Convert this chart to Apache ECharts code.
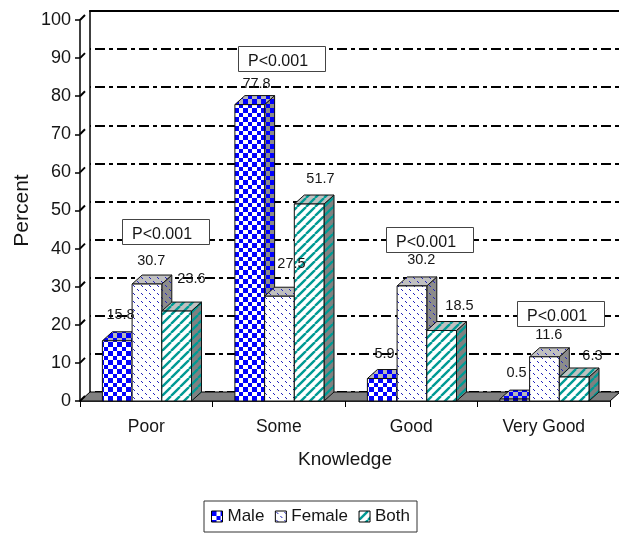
<!DOCTYPE html>
<html>
<head>
<meta charset="utf-8">
<style>html,body{margin:0;padding:0;background:#fff}#c{width:619px;height:533px}</style>
<script src="https://cdn.jsdelivr.net/npm/echarts@6/dist/echarts.min.js"></script>
</head>
<body>
<div id="c"></div>
<script>
var categories = ['Poor', 'Some', 'Good', 'Very Good'];
var male = [15.8, 77.8, 5.9, 0.5];
var female = [30.7, 27.5, 30.2, 11.6];
var both = [23.6, 51.7, 18.5, 6.3];
var yTicks = [0, 10, 20, 30, 40, 50, 60, 70, 80, 90, 100];
var pNotes = ['P<0.001', 'P<0.001', 'P<0.001', 'P<0.001'];

var FONT = '"Liberation Sans", Arial, sans-serif';
var INK = '#151515';
var BAR_W = 29.7, BAR_OFFSET = 0.7, DX = 10, DY = -9;

// Hand placement of value labels around each bar (px from bar centre / top)
var labelNudge = {
  Male:   [[3.3, -26], [6.8, -20.6], [2.3, -24.5], [1.8, -26]],
  Female: [[4.3, -23], [12, -32], [9.3, -26], [4.3, -22]],
  Both:   [[14.8, -32], [11.3, -25], [17.8, -24.5], [18.3, -21]]
};

function tile(w, h, bg, paint) {
  var c = document.createElement('canvas');
  c.width = w; c.height = h;
  var g = c.getContext('2d');
  g.fillStyle = bg; g.fillRect(0, 0, w, h);
  paint(g);
  return { image: c, repeat: 'repeat' };
}
function checker(bg) {
  return tile(9, 9, bg, function (g) {
    g.fillStyle = '#0000ff';
    g.fillRect(0, 0, 5, 5);
    g.fillRect(5, 5, 4, 4);
  });
}
function dots(bg) {
  return tile(8, 8, bg, function (g) {
    g.fillStyle = '#2222bb';
    g.fillRect(1, 1, 1, 1); g.fillRect(2, 2, 1, 1);
    g.fillRect(5, 5, 1, 1); g.fillRect(6, 6, 1, 1);
  });
}
function stripes(bg) {
  return tile(9, 9, bg, function (g) {
    g.strokeStyle = '#009a94';
    g.lineWidth = 2.4;
    g.beginPath();
    for (var k = -9; k <= 18; k += 9) { g.moveTo(k, 9); g.lineTo(k + 9, 0); }
    g.stroke();
  });
}
var fills = {
  Male:   { front: checker('#ffffff'), top: checker('#b8b8b8'), side: checker('#8a8a8a') },
  Female: { front: dots('#ffffff'),    top: dots('#c0c0c0'),    side: dots('#8c8c8c') },
  Both:   { front: stripes('#ffffff'), top: stripes('#c0c0c0'), side: stripes('#808080') }
};

function barRender(name, shift) {
  return function (params, api) {
    var cat = api.value(0), val = api.value(1);
    var top = api.coord([cat, val]), base = api.coord([cat, 0]);
    var cx = top[0] + BAR_OFFSET + shift * BAR_W;
    var x0 = cx - BAR_W / 2, x1 = cx + BAR_W / 2, yT = top[1], yB = base[1];
    var line = { stroke: '#111', lineWidth: 1 };
    var f = fills[name];
    var n = labelNudge[name][cat];
    return {
      type: 'group',
      children: [
        { type: 'polygon', shape: { points: [[x1, yT], [x1 + DX, yT + DY], [x1 + DX, yB + DY], [x1, yB]] },
          style: Object.assign({ fill: f.side }, line) },
        { type: 'polygon', shape: { points: [[x0, yT], [x0 + DX, yT + DY], [x1 + DX, yT + DY], [x1, yT]] },
          style: Object.assign({ fill: f.top }, line) },
        { type: 'rect', shape: { x: x0, y: yT, width: BAR_W, height: yB - yT },
          style: Object.assign({ fill: f.front }, line) },
        { type: 'text', z2: 200, style: { x: cx + n[0], y: yT + n[1], text: String(val),
          fill: INK, font: '14.5px ' + FONT, align: 'center', verticalAlign: 'middle' } }
      ]
    };
  };
}
function pairs(arr) { return arr.map(function (v, i) { return [i, v]; }); }

function frameRender(params, api) {
  var v = api.value(0);
  var p = api.coord([0, v]);
  var band = api.size([1, 0])[0];
  var xL = p[0] - band / 2;
  var kids = [{ type: 'line', shape: { x1: xL, y1: p[1], x2: xL + 5, y2: p[1] - 5 },
    style: { stroke: '#000', lineWidth: 2 } }];
  if (v === 0) {
    var xR = xL + band * categories.length;
    kids.unshift({ type: 'polygon',
      shape: { points: [[xL, p[1]], [xL + DX, p[1] + DY], [xR + DX, p[1] + DY], [xR, p[1]]] },
      style: { fill: '#808080', stroke: '#000', lineWidth: 1 } });
  }
  return { type: 'group', children: kids };
}

var boxes = [[122, 219], [238, 46], [386, 227], [517, 301]];
var graphicEls = [];
boxes.forEach(function (b, i) {
  graphicEls.push({ type: 'rect', z: 50, left: b[0], top: b[1],
    shape: { width: 87, height: 25 }, style: { fill: '#fff', stroke: '#444', lineWidth: 1 } });
  graphicEls.push({ type: 'text', z: 51, left: b[0] + 10, top: b[1] + 8,
    style: { text: pNotes[i], fill: INK, font: '16px ' + FONT } });
});

var chart = echarts.init(document.getElementById('c'), null, { renderer: 'canvas' });
function legendItem(name) {
  return { name: name, icon: 'rect', itemStyle: { color: fills[name].front, borderColor: '#000', borderWidth: 1 } };
}
chart.setOption({
  animation: false,
  backgroundColor: '#fff',
  grid: [
    { left: 80, right: 9, top: 20, height: 381, outerBoundsMode: 'none' },
    { left: 90, right: 0, top: 11, height: 381, outerBoundsMode: 'none' }
  ],
  xAxis: [
    { type: 'category', data: categories, gridIndex: 0,
      name: 'Knowledge', nameLocation: 'middle', nameGap: 49, nameMoveOverlap: false,
      nameTextStyle: { fontFamily: FONT, fontSize: 19, color: INK },
      axisLine: { lineStyle: { color: '#000', width: 1.5 } },
      axisTick: { show: true, length: 6, alignWithLabel: false, lineStyle: { color: '#000' } },
      axisLabel: { fontFamily: FONT, fontSize: 17.5, color: INK, margin: 17 } },
    { type: 'category', data: categories, gridIndex: 1, position: 'top',
      axisLine: { show: true, onZero: false, lineStyle: { color: '#000', width: 2 } },
      axisTick: { show: false }, axisLabel: { show: false } }
  ],
  yAxis: [
    { type: 'value', min: 0, max: 100, interval: 10, gridIndex: 0,
      name: 'Percent', nameLocation: 'middle', nameGap: 47, nameMoveOverlap: false,
      nameTextStyle: { fontFamily: FONT, fontSize: 21, color: INK },
      splitLine: { show: false },
      axisLine: { show: true, lineStyle: { color: '#000', width: 1.5 } },
      axisTick: { show: true, length: 5, lineStyle: { color: '#000', width: 1.5 } },
      axisLabel: { fontFamily: FONT, fontSize: 18, color: INK, margin: 9 } },
    { type: 'value', min: 0, max: 100, interval: 10, gridIndex: 1,
      axisLine: { show: true, lineStyle: { color: '#000', width: 1.5 } },
      axisTick: { show: false }, axisLabel: { show: false },
      splitLine: { show: true, lineStyle: { color: '#000', width: 2, type: [10, 4, 4, 4], dashOffset: 17 } } }
  ],
  legend: {
    data: ['Male', 'Female', 'Both'].map(legendItem),
    left: 204, top: 501, orient: 'horizontal',
    itemWidth: 11, itemHeight: 11, itemGap: 10.5,
    padding: [7, 7, 7, 7],
    backgroundColor: '#fff', borderColor: '#333', borderWidth: 1,
    textStyle: { fontFamily: FONT, fontSize: 17, color: INK }
  },
  graphic: graphicEls,
  series: [
    { type: 'custom', name: 'frame', xAxisIndex: 0, yAxisIndex: 0, data: yTicks.map(function (v) { return [v]; }),
      encode: { y: 0 }, renderItem: frameRender, silent: true, clip: false, z: 2 },
    { type: 'custom', name: 'Male', xAxisIndex: 0, yAxisIndex: 0, data: pairs(male), encode: { x: 0, y: 1 },
      renderItem: barRender('Male', -1), itemStyle: { color: fills.Male.front }, clip: false, z: 2 },
    { type: 'custom', name: 'Female', xAxisIndex: 0, yAxisIndex: 0, data: pairs(female), encode: { x: 0, y: 1 },
      renderItem: barRender('Female', 0), itemStyle: { color: fills.Female.front }, clip: false, z: 2 },
    { type: 'custom', name: 'Both', xAxisIndex: 0, yAxisIndex: 0, data: pairs(both), encode: { x: 0, y: 1 },
      renderItem: barRender('Both', 1), itemStyle: { color: fills.Both.front }, clip: false, z: 2 }
  ]
});
</script>
</body>
</html>
